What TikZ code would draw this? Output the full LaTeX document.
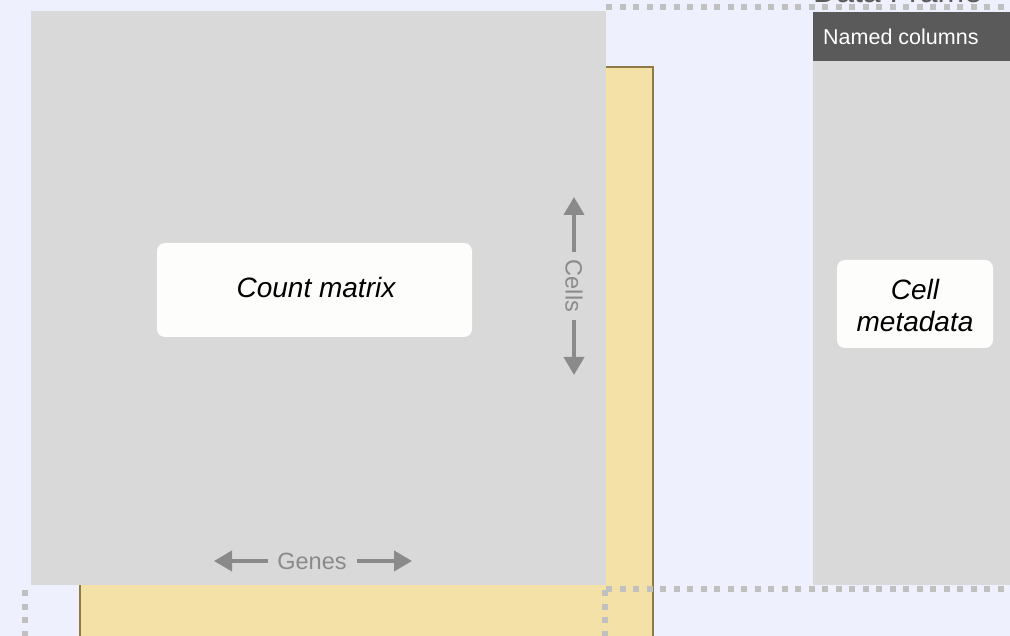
\documentclass[tikz,border=0pt]{standalone}
\usepackage{fontspec}
\setmainfont{Liberation Sans}
\usetikzlibrary{arrows.meta}
\definecolor{bgc}{HTML}{EEF0FE}
\definecolor{grayc}{HTML}{D9D9D9}
\definecolor{yelc}{HTML}{F3E1A8}
\definecolor{yeld}{HTML}{8F7A45}
\definecolor{dotc}{HTML}{C0C0C0}
\definecolor{darkc}{HTML}{5A5A5A}
\definecolor{arrc}{HTML}{8A8A8A}
\definecolor{boxc}{HTML}{FDFDFC}
\tikzset{
  dotline/.style={draw=dotc, line width=6pt, dash pattern=on 6pt off 7.5pt},
  labelbox/.style={fill=boxc, rounded corners=8pt, draw=none},
  boxtext/.style={font=\fontsize{28}{32}\selectfont\itshape, align=center, text=black},
  dimarrow/.style={draw=arrc, line width=4pt, -{Triangle[length=18pt,width=20pt]}},
  dimtext/.style={font=\fontsize{23.5}{27}\selectfont, text=arrc, inner sep=0pt}
}
\begin{document}
\begin{tikzpicture}[x=1pt,y=-1pt]
\useasboundingbox (0,0) rectangle (1010,636);
\fill[bgc] (0,0) rectangle (1010,636);
% yellow layer
\path[fill=yelc, draw=yeld, line width=2.5pt] (80,67) rectangle (653,660);
% dotted frames
\coordinate (d1) at (606,7);
\coordinate (d2) at (1015,7);
\coordinate (d3) at (606,589);
\coordinate (d4) at (1015,589);
\coordinate (v1) at (605,590);
\coordinate (v2) at (605,645);
\coordinate (w1) at (25,590);
\coordinate (w2) at (25,645);
\draw[dotline] (d1) -- (d2);
\draw[dotline] (d3) -- (d4);
\draw[dotline] (v1) -- (v2);
\draw[dotline] (w1) -- (w2);
\node[anchor=base west, font=\fontsize{32}{36}\selectfont, text=darkc, inner sep=0pt] (dftitle) at (813,3) {Data Frame};
% count matrix
\path[fill=grayc] (31,11) rectangle (606,585);
\node[labelbox, minimum width=315pt, minimum height=94pt] (cmbox) at (314.5,290) {};
\node[boxtext] (cmtext) at (316,287) {Count matrix};
% cells arrow
\node[dimtext, rotate=-90] (cells) at (574,286) {Cells};
\coordinate (cellsa) at (574,252);
\coordinate (cellsb) at (574,320);
\coordinate (cellstop) at (574,197);
\coordinate (cellsbot) at (574,375);
\draw[dimarrow] (cellsa) -- (cellstop);
\draw[dimarrow] (cellsb) -- (cellsbot);
% genes arrow
\node[dimtext] (genes) at (312,561) {Genes};
\coordinate (genesa) at (268,561);
\coordinate (genesb) at (357,561);
\coordinate (genesl) at (214,561);
\coordinate (genesr) at (412,561);
\draw[dimarrow] (genesa) -- (genesl);
\draw[dimarrow] (genesb) -- (genesr);
% data frame column
\path[fill=grayc] (813,61) rectangle (1015,585);
\path[fill=darkc] (813,12) rectangle (1015,61);
\node[anchor=west, font=\fontsize{21.5}{25}\selectfont, text=white, inner sep=0pt] (named) at (823,36.5) {Named columns};
\node[labelbox, minimum width=156pt, minimum height=88pt] (cdbox) at (915,304) {};
\node[boxtext] (cdtext) at (915,305) {Cell\\metadata};
\end{tikzpicture}
\end{document}
